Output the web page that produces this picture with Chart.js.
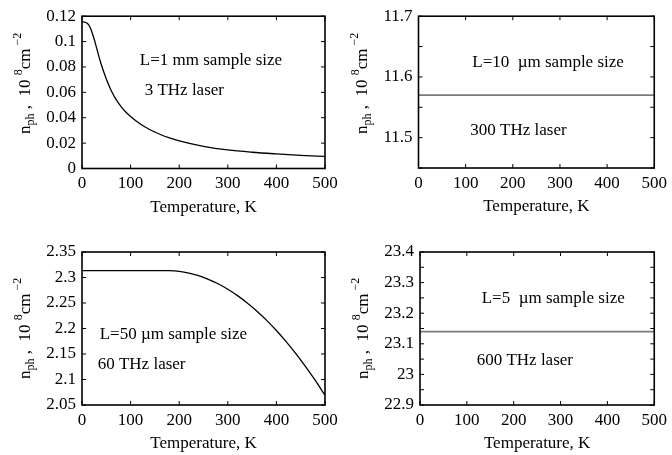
<!DOCTYPE html>
<html><head><meta charset="utf-8">
<script src="https://cdn.jsdelivr.net/npm/chart.js@4.4.0/dist/chart.umd.min.js"></script>
<style>
html,body{margin:0;padding:0;background:#fff;width:672px;height:455px;overflow:hidden}
canvas{position:absolute;left:0;top:0}
</style></head><body>
<canvas id="c1" width="672" height="455"></canvas>
<canvas id="c2" width="672" height="455"></canvas>
<canvas id="c3" width="672" height="455"></canvas>
<canvas id="c4" width="672" height="455"></canvas>
<script>
// ---- data ----
const xTickStep = 100;
const xTitle = 'Temperature, K';

// 3 THz laser, L = 1 mm
const temps1 = [0,5,10,15,20,25,30,35,40,45,50,60,70,80,90,100,120,140,160,180,200,250,300,350,400,450,500];
const nph1   = [0.1155,0.1154,0.1147,0.1125,0.108,0.102,0.095,0.088,0.0815,0.0758,0.0705,0.0615,0.0545,0.049,0.0445,0.041,0.035,0.0305,0.027,0.0241,0.0218,0.0175,0.0146,0.0128,0.0115,0.0104,0.0095];
const yTicks1 = {min:0, max:0.12, step:0.02};

// 300 THz laser, L = 10 um
const temps2 = [0,100,200,300,400,500];
const nph2   = [11.57,11.57,11.57,11.57,11.57,11.57];
const yTicks2 = {min:11.45, max:11.7, step:0.05, labelEvery:0.1};

// 60 THz laser, L = 50 um
const temps3 = [0,50,100,150,160,180,200,220,240,260,280,300,320,340,360,380,400,420,440,460,480,500];
const nph3   = [2.3135,2.3135,2.3135,2.3135,2.3135,2.3133,2.3119,2.3086,2.3035,2.2965,2.2877,2.2770,2.2645,2.2501,2.2339,2.2159,2.1960,2.1743,2.1508,2.1254,2.0982,2.0691];
const yTicks3 = {min:2.05, max:2.35, step:0.05};

// 600 THz laser, L = 5 um
const temps4 = [0,100,200,300,400,500];
const nph4   = [23.14,23.14,23.14,23.14,23.14,23.14];
const yTicks4 = {min:22.9, max:23.4, step:0.05, labelEvery:0.1};

const notes1 = [{t:'L=1 mm sample size', x:119, y:0.085},{t:'3 THz laser', x:129, y:0.0617}];
const notes2 = [{t:'L=10  \u00b5m sample size', x:114, y:11.624},{t:'300 THz laser', x:110, y:11.512}];
const notes3 = [{t:'L=50 \u00b5m sample size', x:36.5, y:2.189},{t:'60 THz laser', x:32.3, y:2.129}];
const notes4 = [{t:'L=5  \u00b5m sample size', x:131.7, y:23.247},{t:'600 THz laser', x:121, y:23.044}];

// ---- drawing ----
const FONT = '"Liberation Serif", "Times New Roman", serif';
const FS = 17;
const W = 672, H = 455, YW = 70, XH = 60;

function drawYTitle(ctx, bx, startY) {
  const parts = [
    {s:'n', size:17, dy:0},
    {s:'ph', size:12, dy:4},
    {s:' ,  ', size:17, dy:0},
    {s:'10 ', size:17, dy:0},
    {s:'8', size:12, dy:-8},
    {s:'cm', size:17, dy:0},
    {s:' ', size:12, dy:0},
    {s:'\u22122', size:12, dy:-9}
  ];
  ctx.save();
  ctx.translate(bx, startY);
  ctx.rotate(-Math.PI/2);
  ctx.textAlign = 'left';
  ctx.textBaseline = 'alphabetic';
  ctx.fillStyle = '#000';
  let x = 0;
  for (const p of parts) {
    ctx.font = p.size + 'px ' + FONT;
    ctx.fillText(p.s, x, p.dy);
    x += ctx.measureText(p.s).width;
  }
  ctx.restore();
}

function deco(notes, titleStartY) {
  return {
    id: 'deco',
    afterDraw(chart) {
      const {ctx, chartArea: a, scales: {x, y}} = chart;
      ctx.save();
      ctx.strokeStyle = '#000';
      ctx.lineWidth = 1;
      ctx.beginPath();
      x.ticks.forEach(t => {
        const px = x.getPixelForValue(t.value);
        ctx.moveTo(px, a.bottom); ctx.lineTo(px, a.bottom - 4);
        ctx.moveTo(px, a.top); ctx.lineTo(px, a.top + 4);
      });
      y.ticks.forEach(t => {
        const py = y.getPixelForValue(t.value);
        ctx.moveTo(a.left, py); ctx.lineTo(a.left + 4, py);
        ctx.moveTo(a.right, py); ctx.lineTo(a.right - 4, py);
      });
      ctx.stroke();
      ctx.lineWidth = 1.6;
      ctx.strokeRect(a.left, a.top, a.right - a.left, a.bottom - a.top);
      ctx.fillStyle = '#000';
      ctx.font = FS + 'px ' + FONT;
      ctx.textAlign = 'center';
      ctx.textBaseline = 'middle';
      ctx.fillText(xTitle, (a.left + a.right) / 2, a.bottom + 39);
      ctx.textAlign = 'left';
      notes.forEach(n => ctx.fillText(n.t, x.getPixelForValue(n.x), y.getPixelForValue(n.y)));
      ctx.restore();
      drawYTitle(ctx, a.left - 52, titleStartY);
    }
  };
}

function fmt(v) { return String(Math.round(v * 10000) / 10000); }

function makeChart(id, temps, vals, yt, area, notes, titleStartY, color, width) {
  const [L, R, T, B] = area;
  new Chart(document.getElementById(id), {
    type: 'line',
    data: { datasets: [{ data: temps.map((t, i) => ({x: t, y: vals[i]})), borderColor: color, borderWidth: width,
      pointRadius: 0, fill: false, cubicInterpolationMode: 'monotone', tension: 0.4 }] },
    options: {
      responsive: false, animation: false, events: [],
      layout: { padding: { left: L - YW, right: W - R, top: T, bottom: H - B - XH } },
      plugins: { legend: {display: false}, tooltip: {enabled: false} },
      scales: {
        x: { type: 'linear', min: 0, max: 500,
          ticks: { stepSize: xTickStep, color: '#000', font: {family: FONT, size: FS}, padding: 5, maxRotation: 0, autoSkip: false },
          grid: { display: false, drawTicks: false }, border: { display: false },
          afterFit(s) { s.height = XH; } },
        y: { type: 'linear', min: yt.min, max: yt.max,
          ticks: { stepSize: yt.step, color: '#000', font: {family: FONT, size: FS}, padding: 6, autoSkip: false,
            callback(v) {
              const r = Math.round(v * 10000) / 10000;
              if (yt.labelEvery) {
                const k = r / yt.labelEvery;
                if (Math.abs(k - Math.round(k)) > 1e-6) return '';
              }
              return fmt(r);
            } },
          grid: { display: false, drawTicks: false }, border: { display: false },
          afterFit(s) { s.width = YW; } }
      }
    },
    plugins: [deco(notes, titleStartY)]
  });
}

makeChart('c1', temps1, nph1, yTicks1, [82, 325, 15, 168.5], notes1, 134, '#000', 1.3);
makeChart('c2', temps2, nph2, yTicks2, [418.5, 658, 15, 168], notes2, 134, '#7a7a7a', 1.8);
makeChart('c3', temps3, nph3, yTicks3, [82, 325, 252, 405], notes3, 379, '#000', 1.3);
makeChart('c4', temps4, nph4, yTicks4, [420, 658, 252, 405], notes4, 379, '#7a7a7a', 1.8);
</script>
</body></html>
